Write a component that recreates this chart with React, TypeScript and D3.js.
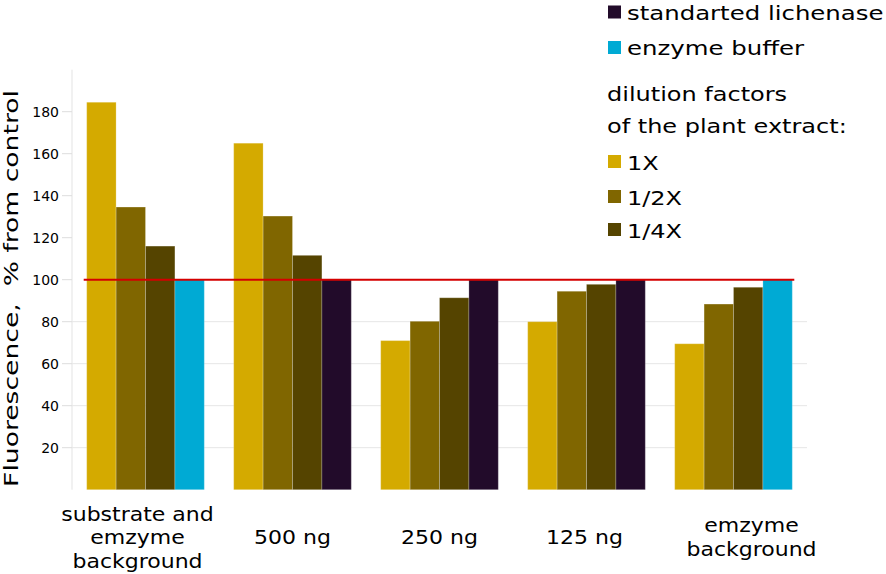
import React from 'react';
import { scaleBand, scaleLinear } from 'd3';

// groups on the x axis (label lines)
const groupLabels = [
  ['substrate and', 'emzyme', 'background'],
  ['500 ng'],
  ['250 ng'],
  ['125 ng'],
  ['emzyme', 'background'],
];

// fluorescence, % from control
const dil1X = [184.5, 165, 71, 80, 69.5];
const dilHalf = [134.6, 130.3, 80.2, 94.5, 88.4];
const dilQuarter = [116, 111.6, 91.4, 97.8, 96.4];
const controlValues = [100, 100, 100, 100, 100];
const controlKind = ['buffer', 'lichenase', 'lichenase', 'lichenase', 'buffer'];

const yTicks = [20, 40, 60, 80, 100, 120, 140, 160, 180];
const gridTicks = [20, 40, 60, 80];
const refValue = 100;

const colors: Record<string, string> = {
  x1: '#d4aa00',
  half: '#806600',
  quarter: '#554400',
  lichenase: '#220b2a',
  buffer: '#00aad4',
};

const legendTop = [
  { key: 'lichenase', label: 'standarted lichenase' },
  { key: 'buffer', label: 'enzyme buffer' },
];
const legendTitle = ['dilution factors', 'of the plant extract:'];
const legendDil = [
  { key: 'x1', label: '1X' },
  { key: 'half', label: '1/2X' },
  { key: 'quarter', label: '1/4X' },
];

const W = 886, H = 574;
const FONT = "'DejaVu Sans', sans-serif";

export default function App() {
  const axisX = 72, plotRight = 807;
  const y0 = 489.7, yTop = 69.7;

  const yScale = scaleLinear().domain([0, 200]).range([y0, yTop]);
  const xScale = scaleBand<number>()
    .domain(groupLabels.map((_, i) => i))
    .range([axisX, plotRight])
    .paddingInner(0.2)
    .paddingOuter(0.1);
  const inner = scaleBand<string>()
    .domain(['x1', 'half', 'quarter', 'ctrl'])
    .range([0, xScale.bandwidth()]);

  const bars = groupLabels.flatMap((_, i) => [
    { g: i, s: 'x1', v: dil1X[i], c: colors.x1 },
    { g: i, s: 'half', v: dilHalf[i], c: colors.half },
    { g: i, s: 'quarter', v: dilQuarter[i], c: colors.quarter },
    { g: i, s: 'ctrl', v: controlValues[i], c: colors[controlKind[i]] },
  ]);

  // hand nudges for the wrapped labels, as in the original
  const labelNudge = [-8, 0, 0, -2, 18];
  const lineH = 23.5;
  const labelMid = 537;

  const firstBar = xScale(0)!;
  const lastBar = xScale(groupLabels.length - 1)! + xScale.bandwidth();

  return (
    <svg width={W} height={H} style={{ position: 'absolute', left: 0, top: 0 }} fontFamily={FONT}>
      <rect width={W} height={H} fill="#fff" />

      {/* y axis line and grid */}
      <line x1={axisX} x2={axisX} y1={y0} y2={yTop} stroke="#e3e3e3" strokeWidth={1} />
      {gridTicks.map((t) => (
        <line key={'g' + t} x1={axisX} x2={plotRight} y1={yScale(t)} y2={yScale(t)} stroke="#e6e6e6" strokeWidth={1} />
      ))}
      {yTicks.map((t) => (
        <g key={'t' + t}>
          <line x1={axisX - 10} x2={axisX} y1={yScale(t)} y2={yScale(t)} stroke="#dddddd" strokeWidth={1} />
          <text x={59} y={yScale(t) + 5} textAnchor="end" fontSize={14} fill="#000">{t}</text>
        </g>
      ))}

      {/* bars */}
      {bars.map((b, k) => (
        <rect
          key={k}
          x={xScale(b.g)! + inner(b.s)!}
          y={yScale(b.v)}
          width={inner.bandwidth()}
          height={y0 - yScale(b.v)}
          fill={b.c}
          stroke="rgba(255,255,255,0.22)"
          strokeWidth={1}
        />
      ))}

      {/* reference line at 100 % */}
      <line x1={firstBar - 3} x2={lastBar + 2} y1={yScale(refValue)} y2={yScale(refValue)} stroke="#d40000" strokeWidth={2} />

      {/* x labels */}
      {groupLabels.map((lines, i) => {
        const cx = xScale(i)! + xScale.bandwidth() / 2 + labelNudge[i];
        const startMid = labelMid - ((lines.length - 1) * lineH) / 2;
        return lines.map((ln, j) => (
          <text
            key={i + '-' + j}
            transform={`translate(${cx},${startMid + j * lineH + 7}) scale(1.1,1)`}
            textAnchor="middle"
            fontSize={20}
            fill="#000"
          >
            {ln}
          </text>
        ));
      })}

      {/* y title */}
      <text transform={`translate(18,288.5) rotate(-90) scale(1.4,1)`} textAnchor="middle" fontSize={19} fill="#000" style={{ whiteSpace: 'pre' }}>
        {'Fluorescence,  % from control'}
      </text>

      {/* legend */}
      {legendTop.map((d, i) => {
        const base = [19.5, 55][i];
        return (
          <g key={d.key}>
            <rect x={608} y={base - 14} width={13} height={13} fill={colors[d.key]} />
            <text transform={`translate(627,${base}) scale(1.22,1)`} fontSize={20} fill="#000">{d.label}</text>
          </g>
        );
      })}
      {legendTitle.map((t, i) => (
        <text key={t} transform={`translate(607,${[101, 133][i]}) scale(1.2,1)`} fontSize={20} fill="#000">{t}</text>
      ))}
      {legendDil.map((d, i) => {
        const base = [170, 205, 238][i];
        return (
          <g key={d.key}>
            <rect x={608} y={base - 15} width={13} height={13} fill={colors[d.key]} />
            <text transform={`translate(627,${base}) scale(1.2,1)`} fontSize={20} fill="#000">{d.label}</text>
          </g>
        );
      })}
    </svg>
  );
}
